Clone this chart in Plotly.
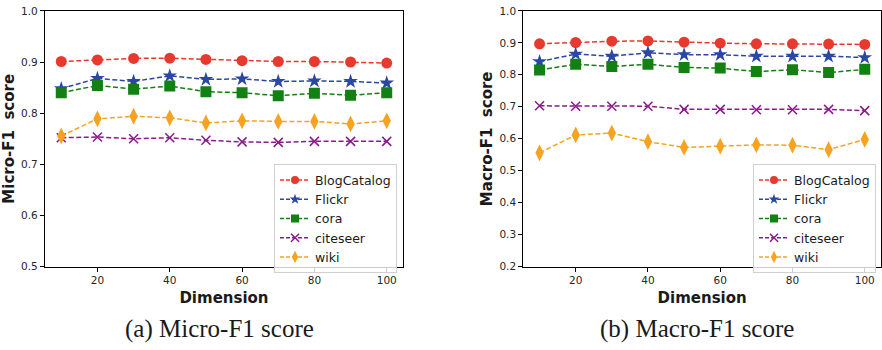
import plotly.graph_objects as go

dims = [10, 20, 30, 40, 50, 60, 70, 80, 90, 100]
names = ["BlogCatalog", "Flickr", "cora", "citeseer", "wiki"]

micro_blog = [0.901, 0.904, 0.907, 0.9075, 0.905, 0.9025, 0.901, 0.901, 0.900, 0.898]
micro_flickr = [0.848, 0.868, 0.862, 0.873, 0.866, 0.867, 0.862, 0.863, 0.862, 0.859]
micro_cora = [0.840, 0.854, 0.847, 0.853, 0.842, 0.840, 0.834, 0.839, 0.835, 0.840]
micro_cite = [0.752, 0.7535, 0.750, 0.752, 0.747, 0.744, 0.743, 0.745, 0.745, 0.745]
micro_wiki = [0.7555, 0.789, 0.794, 0.791, 0.781, 0.785, 0.784, 0.784, 0.779, 0.785]

macro_blog = [0.897, 0.901, 0.905, 0.906, 0.902, 0.899, 0.897, 0.897, 0.896, 0.895]
macro_flickr = [0.841, 0.865, 0.858, 0.869, 0.863, 0.863, 0.858, 0.858, 0.858, 0.854]
macro_cora = [0.815, 0.833, 0.826, 0.833, 0.823, 0.821, 0.810, 0.816, 0.807, 0.817]
macro_cite = [0.703, 0.702, 0.702, 0.702, 0.692, 0.692, 0.691, 0.691, 0.692, 0.688]
macro_wiki = [0.556, 0.612, 0.618, 0.591, 0.573, 0.577, 0.581, 0.580, 0.566, 0.598]

x_ticks = [20, 40, 60, 80, 100]
micro_yticks = [0.5, 0.6, 0.7, 0.8, 0.9, 1.0]
macro_yticks = [0.2, 0.3, 0.4, 0.5, 0.6, 0.7, 0.8, 0.9, 1.0]

colors = ["#e8392e", "#2b47a6", "#138013", "#8b1a8b", "#f7a322"]
symbols = ["circle", "star", "square", "x-thin", "diamond-tall"]
sizes = [11, 11, 11, 9, 12]
legend_sizes = [8, 8, 8, 8, 9]

W, H = 882, 350
fig = go.Figure()

micro = [micro_blog, micro_flickr, micro_cora, micro_cite, micro_wiki]
macro = [macro_blog, macro_flickr, macro_cora, macro_cite, macro_wiki]


def marker(i, size):
    mk = dict(symbol=symbols[i], size=size, color=colors[i])
    if symbols[i] == "x-thin":
        mk["line"] = dict(color=colors[i], width=1.5)
    else:
        mk["line"] = dict(width=0)
    return mk


for data, xa, ya, lg in [(micro, "x", "y", "legend"), (macro, "x2", "y2", "legend2")]:
    for i, name in enumerate(names):
        fig.add_trace(go.Scatter(
            x=dims, y=data[i], name=name, mode="lines+markers",
            line=dict(color=colors[i], width=1.5, dash="5px,2.5px"),
            marker=marker(i, sizes[i]), xaxis=xa, yaxis=ya, showlegend=False,
        ))
    # legend-only entries with smaller markers (no data drawn)
    for i, name in enumerate(names):
        fig.add_trace(go.Scatter(
            x=[None], y=[None], name=name, mode="lines+markers",
            line=dict(color=colors[i], width=1.5, dash="4px,2px"),
            marker=marker(i, legend_sizes[i]), xaxis=xa, yaxis=ya, legend=lg,
        ))

tick_font = dict(family="DejaVu Sans", size=10.5, color="#262626")
title_font = dict(family="DejaVu Sans", size=15, color="#1a1a1a", weight="bold")


def xaxis(domain, anchor):
    return dict(domain=domain, anchor=anchor, range=[5.5, 104.5], tickvals=x_ticks,
                ticks="outside", ticklen=4, tickwidth=1, tickcolor="black",
                showline=True, linecolor="black", linewidth=1.2, mirror=True,
                showgrid=False, zeroline=False, tickfont=tick_font,
                ticklabeloverflow="allow",
                title=dict(text="Dimension", font=title_font, standoff=7))


def yaxis(domain, anchor, rng, tv, title):
    return dict(domain=domain, anchor=anchor, range=rng, tickvals=tv,
                tickformat=".1f",
                ticks="outside", ticklen=4, tickwidth=1, tickcolor="black",
                showline=True, linecolor="black", linewidth=1.2, mirror=True,
                showgrid=False, zeroline=False, tickfont=tick_font,
                ticklabeloverflow="allow",
                title=dict(text=title, font=title_font, standoff=3))


ydom = [(H - 270) / H, (H - 5) / H]
legend_common = dict(font=dict(family="DejaVu Sans", size=12.5, color="#1a1a1a"),
                     bgcolor="rgba(255,255,255,0.8)", bordercolor="#d0d0d0", borderwidth=1,
                     xanchor="right", yanchor="top", tracegroupgap=0, itemwidth=30)

cap_font = dict(family="Liberation Serif", size=25, color="#1a1a1a")

fig.update_layout(
    width=W, height=H,
    margin=dict(l=0, r=0, t=0, b=0),
    paper_bgcolor="white", plot_bgcolor="white",
    xaxis=xaxis([45 / W, 403 / W], "y"),
    yaxis=yaxis(ydom, "x", [0.5, 1.0], micro_yticks, "Micro-F1\u00a0\u00a0score"),
    xaxis2=xaxis([523.3 / W, 881 / W], "y2"),
    yaxis2=yaxis(ydom, "x2", [0.2, 1.0], macro_yticks, "Macro-F1\u00a0\u00a0score"),
    legend=dict(x=397 / W, y=(H - 164) / H, **legend_common),
    legend2=dict(x=876 / W, y=(H - 164) / H, **legend_common),
    annotations=[
        dict(text="(a) Micro-F1 score", x=219 / W, y=(H - 334) / H, xref="paper", yref="paper",
             showarrow=False, xanchor="center", yanchor="middle", font=cap_font),
        dict(text="(b) Macro-F1 score", x=697 / W, y=(H - 334) / H, xref="paper", yref="paper",
             showarrow=False, xanchor="center", yanchor="middle", font=cap_font),
    ],
)

fig.write_html("out.html", config={"displayModeBar": False},
               post_script="document.body.style.margin='0';document.body.style.overflow='hidden';")
